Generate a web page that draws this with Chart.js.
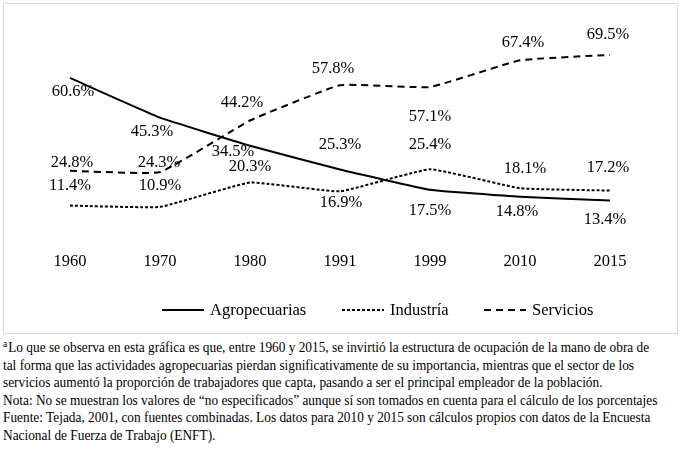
<!DOCTYPE html>
<html>
<head>
<meta charset="utf-8">
<script src="https://cdn.jsdelivr.net/npm/chart.js@4/dist/chart.umd.min.js"></script>
<style>
    body { margin: 0; background: #fff; font-family: "Liberation Serif", "Times New Roman", serif; color: #000; }
    #box { position: absolute; left: 3px; top: 3px; width: 675px; height: 331px; border: 1px solid #d9d9d9; box-sizing: border-box; }
    #note { position: absolute; left: 3px; top: 339px; font-size: 14px; line-height: 17.6px; white-space: nowrap; transform: scaleX(0.952); transform-origin: 0 0; }
    #note sup { font-size: 10px; vertical-align: 5px; line-height: 0; margin-right: 1px; }
</style>
</head>
<body>
<div id="box"><canvas id="myChart"></canvas></div>
<div id="note"><sup>a</sup>Lo que se observa en esta gráfica es que, entre 1960 y 2015, se invirtió la estructura de ocupación de la mano de obra de<br>tal forma que las actividades agropecuarias pierdan significativamente de su importancia, mientras que el sector de los<br>servicios aumentó la proporción de trabajadores que capta, pasando a ser el principal empleador de la población.<br>Nota: No se muestran los valores de “no especificados” aunque sí son tomados en cuenta para el cálculo de los porcentajes<br>Fuente: Tejada, 2001, con fuentes combinadas. Los datos para 2010 y 2015 son cálculos propios con datos de la Encuesta<br>Nacional de Fuerza de Trabajo (ENFT).</div>
<script>
const years = ['1960', '1970', '1980', '1991', '1999', '2010', '2015'];
const agropecuarias = [60.6, 45.3, 34.5, 25.3, 17.5, 14.8, 13.4];
const industria = [11.4, 10.9, 20.3, 16.9, 25.4, 18.1, 17.2];
const servicios = [24.8, 24.3, 44.2, 57.8, 57.1, 67.4, 69.5];

// desplazamiento de las etiquetas respecto al punto (px)
const labelOffsets = [
    [[3, 14], [-8, 14], [-17, 6], [0, -25], [0, 21], [-3, 15], [-5, 19]],
    [[0, -20], [0, -21], [0, -16], [1, 11], [0, -25], [5, -20], [-2, -23]],
    [[2, -8], [-1, -9], [-8, -18], [-7, -17], [0, 30], [3, -18], [-2, -20]]
];
// inicio de cada muestra de la leyenda (px en el canvas)
const legendStarts = [158, 338, 480];

const font = '"Liberation Serif", "Times New Roman", serif';

const pointLabels = {
    id: 'pointLabels',
    afterDatasetsDraw(chart) {
        const ctx = chart.ctx;
        ctx.save();
        ctx.font = '16.5px ' + font;
        ctx.fillStyle = '#000';
        ctx.textAlign = 'center';
        ctx.textBaseline = 'middle';
        chart.data.datasets.forEach((ds, i) => {
            chart.getDatasetMeta(i).data.forEach((pt, j) => {
                const off = labelOffsets[i][j];
                ctx.fillText(ds.data[j].toFixed(1) + '%', pt.x + off[0], pt.y + off[1]);
            });
        });
        ctx.restore();
    }
};

const lineLegend = {
    id: 'lineLegend',
    afterDraw(chart) {
        const ctx = chart.ctx;
        const lineLen = 42, gap = 6, y = 306;
        ctx.save();
        ctx.font = '16.5px ' + font;
        chart.data.datasets.forEach((ds, i) => {
            const x = legendStarts[i];
            ctx.strokeStyle = '#000';
            ctx.lineWidth = ds.borderWidth;
            ctx.setLineDash(ds.borderDash || []);
            ctx.beginPath();
            ctx.moveTo(x, y);
            ctx.lineTo(x + lineLen, y);
            ctx.stroke();
            ctx.setLineDash([]);
            ctx.fillStyle = '#000';
            ctx.textAlign = 'left';
            ctx.textBaseline = 'middle';
            ctx.fillText(ds.label, x + lineLen + gap, y + 1);
        });
        ctx.restore();
    }
};

const ctx = document.getElementById('myChart');
const chart = new Chart(ctx, {
    type: 'line',
    data: {
        labels: years,
        datasets: [
            {
                label: 'Agropecuarias',
                data: agropecuarias,
                borderColor: '#000',
                borderWidth: 2,
                borderDash: [],
                pointRadius: 0,
                tension: 0.1,
                fill: false
            },
            {
                label: 'Industría',
                data: industria,
                borderColor: '#000',
                borderWidth: 2,
                borderDash: [3, 2],
                pointRadius: 0,
                tension: 0.1,
                fill: false
            },
            {
                label: 'Servicios',
                data: servicios,
                borderColor: '#000',
                borderWidth: 2,
                borderDash: [7, 5],
                pointRadius: 0,
                tension: 0.1,
                fill: false
            }
        ]
    },
    options: {
        responsive: true,
        maintainAspectRatio: false,
        animation: false,
        layout: { padding: { left: 21, right: 22, top: 23.6, bottom: 44 } },
        plugins: {
            legend: { display: false },
            tooltip: { enabled: false }
        },
        scales: {
            x: {
                offset: true,
                grid: { display: false, drawTicks: false },
                border: { display: false },
                ticks: { color: '#000', padding: 17, font: { family: font, size: 16.5 } }
            },
            y: {
                display: false,
                min: 0,
                max: 80
            }
        }
    },
    plugins: [pointLabels, lineLegend]
});
</script>
</body>
</html>
